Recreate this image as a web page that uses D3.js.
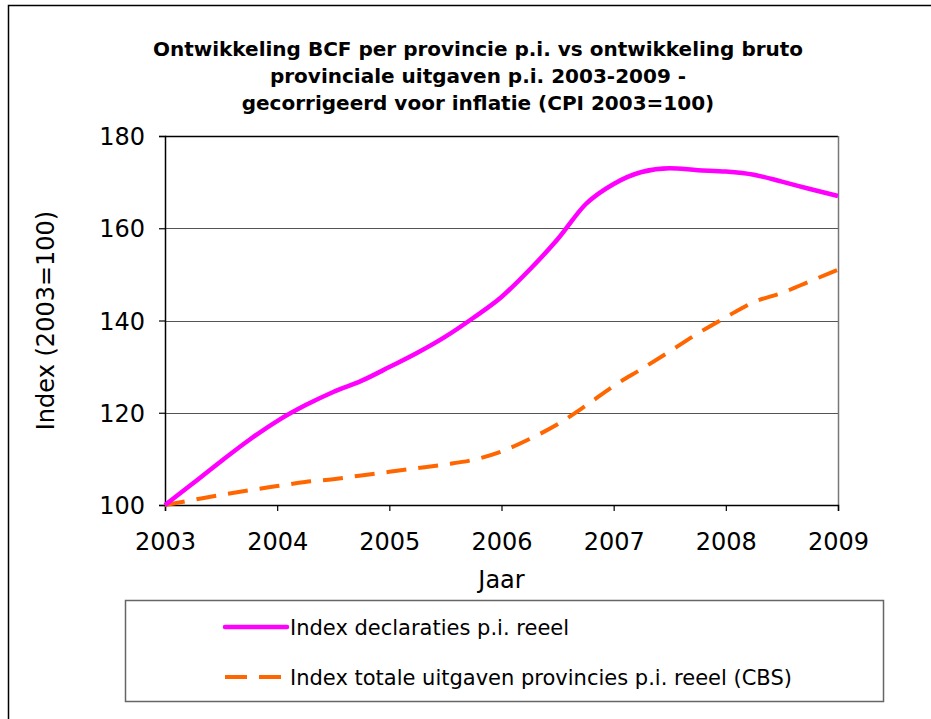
<!DOCTYPE html>
<html>
<head>
<meta charset="utf-8">
<script src="https://cdn.jsdelivr.net/npm/d3@7"></script>
<style>
  body { margin: 0; background: #fff; }
  text { font-family: "DejaVu Sans", Verdana, sans-serif; fill: #000; }
</style>
</head>
<body>
<div id="chart"></div>
<script>
// time points (quarterly, decimal years)
var periods = [2003, 2003.25, 2003.5, 2003.75, 2004, 2004.25, 2004.5, 2004.75,
    2005, 2005.25, 2005.5, 2005.75, 2006, 2006.25, 2006.5, 2006.75,
    2007, 2007.25, 2007.5, 2007.75, 2008, 2008.25, 2008.5, 2008.75, 2009];

var declaraties = [100, 104.7, 109.5, 114.1, 118.2, 121.6, 124.5, 126.9,
    129.9, 133.0, 136.5, 140.6, 145.1, 151.0, 157.6, 165.2,
    169.6, 172.2, 173.0, 172.6, 172.3, 171.6, 170.1, 168.5, 167.0];

var uitgaven = [100, 101.1, 102.2, 103.2, 104.1, 105.0, 105.6, 106.4,
    107.2, 108.0, 108.8, 109.8, 111.6, 114.3, 117.5, 121.5,
    125.8, 129.5, 133.3, 137.2, 140.7, 144.0, 146.0, 148.5, 151.0];

var yearTicks = [2003, 2004, 2005, 2006, 2007, 2008, 2009];
var valueTicks = [100, 120, 140, 160, 180];

var seriesNames = ["Index declaraties p.i. reeel",
    "Index totale uitgaven provincies p.i. reeel (CBS)"];

var titleLines = ["Ontwikkeling BCF per provincie p.i. vs ontwikkeling bruto",
    "provinciale uitgaven p.i. 2003-2009 -",
    "gecorrigeerd voor inflatie (CPI 2003=100)"];

var W = 931, H = 719;
var margin = {top: 136, right: 93, bottom: 214, left: 165};
var width = W - margin.left - margin.right;
var height = H - margin.top - margin.bottom;

var svg = d3.select("#chart").append("svg")
    .attr("width", W)
    .attr("height", H);

// outer frame
svg.append("rect")
    .attr("x", 8.5).attr("y", 5.5)
    .attr("width", W + 20).attr("height", H + 20)
    .attr("fill", "none")
    .attr("stroke", "#000")
    .attr("stroke-width", 1.5);

// title
svg.append("text")
    .attr("x", 478)
    .attr("text-anchor", "middle")
    .style("font-weight", "bold")
    .style("font-size", "20px")
    .selectAll("tspan")
    .data(titleLines)
    .enter().append("tspan")
    .attr("x", 478)
    .attr("y", function(d, i) { return 56 + i * 27; })
    .text(function(d) { return d; });

var g = svg.append("g")
    .attr("transform", "translate(" + margin.left + "," + margin.top + ")");

var x = d3.scaleLinear().domain([2003, 2009]).range([0, width]);
var y = d3.scaleLinear().domain([100, 180]).range([height, 0]);

// gridlines
g.selectAll(".grid")
    .data(valueTicks.slice(1, -1))
    .enter().append("line")
    .attr("class", "grid")
    .attr("x1", 0).attr("x2", width)
    .attr("y1", function(d) { return Math.round(y(d)) + 0.5; })
    .attr("y2", function(d) { return Math.round(y(d)) + 0.5; })
    .attr("stroke", "#555")
    .attr("stroke-width", 1.2);

// plot border top + right
g.append("line")
    .attr("x1", 0).attr("x2", width).attr("y1", 0.5).attr("y2", 0.5)
    .attr("stroke", "#000").attr("stroke-width", 1.5);
g.append("line")
    .attr("x1", width + 0.5).attr("x2", width + 0.5).attr("y1", 0).attr("y2", height)
    .attr("stroke", "#777").attr("stroke-width", 1.5);

// axes
var yAxis = g.append("g")
    .attr("class", "axis")
    .call(d3.axisLeft(y).tickValues(valueTicks).tickSize(6).tickPadding(14));

var xAxis = g.append("g")
    .attr("class", "axis")
    .attr("transform", "translate(0," + height + ")")
    .call(d3.axisBottom(x).tickValues(yearTicks).tickFormat(d3.format("d"))
        .tickSize(6).tickPadding(22));

svg.selectAll(".axis path").attr("stroke", "#000").attr("stroke-width", 1.5);
svg.selectAll(".axis line").attr("stroke", "#000").attr("stroke-width", 1.2);
svg.selectAll(".axis text")
    .style("font-size", "24px")
    .style("font-family", "\"DejaVu Sans\", Verdana, sans-serif")
    .attr("fill", "#000");
yAxis.selectAll("text").attr("dy", "0.36em");

// axis titles
svg.append("text")
    .attr("transform", "translate(54," + (margin.top + height / 2) + ") rotate(-90)")
    .attr("text-anchor", "middle")
    .style("font-size", "24px")
    .text("Index (2003=100)");

svg.append("text")
    .attr("x", margin.left + width / 2)
    .attr("y", 588)
    .attr("text-anchor", "middle")
    .style("font-size", "24px")
    .text("Jaar");

// lines
var line = d3.line()
    .x(function(d) { return x(d[0]); })
    .y(function(d) { return y(d[1]); })
    .curve(d3.curveMonotoneX);

g.append("path")
    .datum(d3.zip(periods, uitgaven))
    .attr("fill", "none")
    .attr("stroke", "#ff6600")
    .attr("stroke-width", 4)
    .attr("stroke-dasharray", "20,12")
    .attr("d", line);

g.append("path")
    .datum(d3.zip(periods, declaraties))
    .attr("fill", "none")
    .attr("stroke", "#ff00ff")
    .attr("stroke-width", 4.5)
    .attr("d", line);

// legend
var legend = svg.append("g");
legend.append("rect")
    .attr("x", 125.5).attr("y", 600.5)
    .attr("width", 758).attr("height", 101)
    .attr("fill", "#fff")
    .attr("stroke", "#666")
    .attr("stroke-width", 1.5);

var legendStyles = [
    {color: "#ff00ff", dash: null, w: 4.5},
    {color: "#ff6600", dash: "22,12", w: 4}
];

var items = legend.selectAll(".item")
    .data(seriesNames)
    .enter().append("g")
    .attr("class", "item")
    .attr("transform", function(d, i) { return "translate(0," + (627 + i * 50) + ")"; });

items.append("line")
    .attr("x1", 225).attr("x2", 287)
    .attr("y1", 0).attr("y2", 0)
    .attr("stroke", function(d, i) { return legendStyles[i].color; })
    .attr("stroke-width", function(d, i) { return legendStyles[i].w; })
    .attr("stroke-linecap", function(d, i) { return i === 0 ? "round" : "butt"; })
    .attr("stroke-dasharray", function(d, i) { return legendStyles[i].dash; });

items.append("text")
    .attr("x", 290)
    .attr("y", 0)
    .attr("dy", "0.36em")
    .style("font-size", "21px")
    .text(function(d) { return d; });
</script>
</body>
</html>
